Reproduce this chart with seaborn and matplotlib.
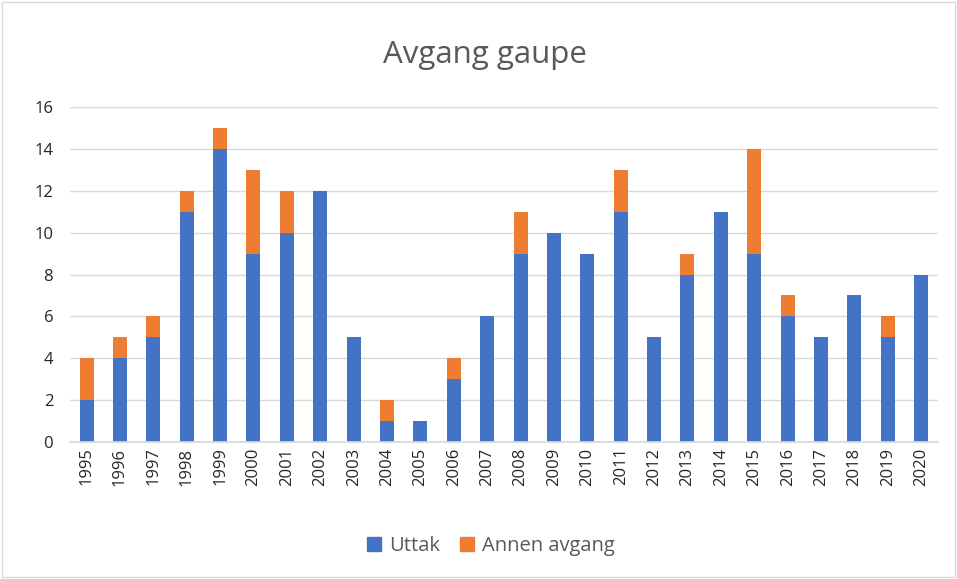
import matplotlib
matplotlib.use("Agg")
import matplotlib.pyplot as plt
import matplotlib.patches as mpatches
import seaborn as sns
import numpy as np
import pandas as pd

# Data
years = [str(y) for y in range(1995, 2021)]
uttak = [2, 4, 5, 11, 14, 9, 10, 12, 5, 1, 1, 3, 6, 9, 10, 9, 11, 5, 8, 11, 9, 6, 5, 7, 5, 8]
annen = [2, 1, 1, 1, 1, 4, 2, 0, 0, 1, 0, 1, 0, 2, 0, 0, 2, 0, 1, 0, 5, 1, 0, 0, 1, 0]

blue = '#4472C4'
orange = '#ED7D31'
text_gray = '#595959'

sns.set_theme(style='white')
plt.rcParams['font.family'] = ['Open Sans', 'DejaVu Sans']

df = pd.DataFrame({'year': years, 'uttak': uttak, 'annen': annen})

fig = plt.figure(figsize=(9.57, 5.79), dpi=100)
ax = fig.add_axes([0.073, 0.2366, 0.907, 0.5786])

sns.barplot(data=df, x='year', y='uttak', color=blue, width=0.42,
            saturation=1, ax=ax, linewidth=0)
sns.barplot(data=df, x='year', y='annen', color=orange, width=0.42,
            saturation=1, ax=ax, bottom=df['uttak'], linewidth=0)

ax.set_ylim(0, 16)
ax.set_yticks(range(0, 17, 2))
ax.set_xlim(-0.5, len(years) - 0.5)
ax.yaxis.grid(True, color='#D9D9D9', linewidth=1)
ax.set_axisbelow(True)
for s in ['top', 'right', 'left']:
    ax.spines[s].set_visible(False)
ax.spines['bottom'].set_color('#D9D9D9')
ax.set_xlabel('')
ax.set_ylabel('')
ax.tick_params(axis='x', labelrotation=90, labelsize=12, colors='#262626', length=0, pad=4)
ax.tick_params(axis='y', labelsize=12, colors='#262626', length=0, pad=12)

fig.text(0.507, 0.905, 'Avgang gaupe', ha='center', va='center', fontsize=22.5, color=text_gray)

handles = [mpatches.Patch(color=blue, label='Uttak'),
           mpatches.Patch(color=orange, label='Annen avgang')]
fig.legend(handles=handles, loc='center', bbox_to_anchor=(0.513, 0.057), ncol=2,
           frameon=False, fontsize=14.5, handlelength=0.7, handleheight=0.7,
           columnspacing=1.0, handletextpad=0.4, labelcolor=text_gray)

# Chart border
fig.patches.append(mpatches.Rectangle((0.002, 0.003), 0.996, 0.994, transform=fig.transFigure,
                                      fill=False, edgecolor='#D9D9D9', linewidth=1))

fig.savefig('out.png', dpi=100)
